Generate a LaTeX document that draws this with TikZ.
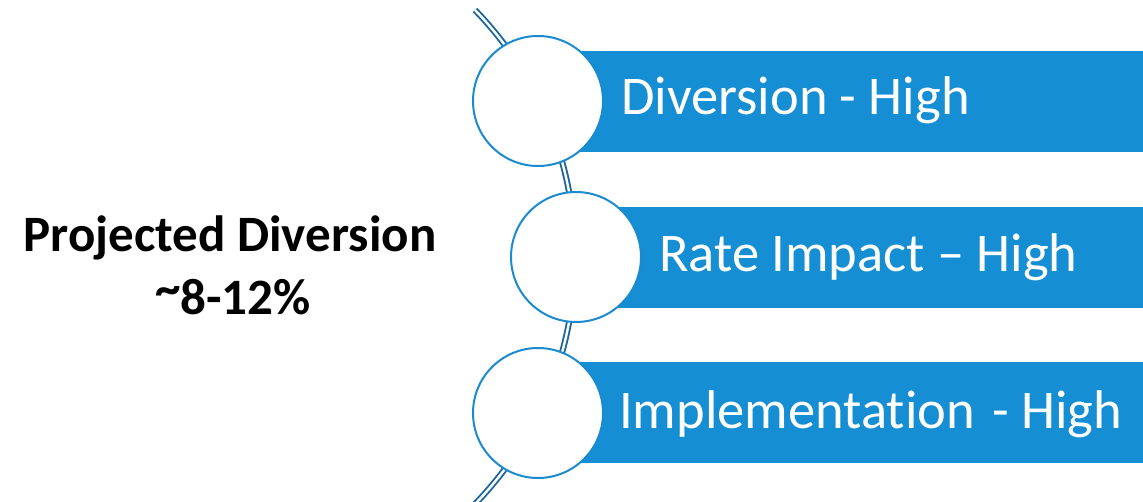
\documentclass[tikz,border=0pt]{standalone}
\usepackage{fontspec}
\setmainfont{Carlito}[Ligatures=NoCommon]
\definecolor{barblue}{HTML}{158ED4}
\definecolor{ringblue}{HTML}{1A8BD0}
\definecolor{spineblue}{HTML}{1D66A0}
\begin{document}
\begin{tikzpicture}[x=1pt,y=1pt,
  bar/.style={fill=barblue, draw=none},
  ring/.style={circle, draw=ringblue, line width=2pt, fill=white, minimum size=130pt, inner sep=0pt},
  spine/.style={draw=spineblue, line width=1.9pt, double=white, double distance=2.4pt},
  itemtext/.style={anchor=base west, text=white, inner sep=0pt, font=\fontsize{54.5}{60}\selectfont},
  headtext/.style={anchor=base, text=black, inner sep=0pt, font=\fontsize{51}{58}\selectfont\bfseries}]
\useasboundingbox (0,0) rectangle (1143,501);

% curved spine behind the circles
\coordinate (spinetop) at (475,491);
\draw[spine] (spinetop) arc[start angle=44.1, end angle=-44.4, radius=355pt] coordinate (spinebot);

% bars
\fill[bar] (538,349) rectangle (1143,450);
\fill[bar] (576,193) rectangle (1143,294);
\fill[bar] (538,38) rectangle (1143,139);

% circles
\node[ring] (c1) at (538,400) {};
\node[ring] (c2) at (576,244) {};
\node[ring] (c3) at (538,88) {};

% bar labels
\node[itemtext] (t1) at (621,386) {Diversion - High};
\node[itemtext] (t2) at (659,229) {Rate Impact – High};
\node[itemtext] (t3) at (619,73) {Implementation\hspace{0.32em}- High};

% heading on the left
\node[headtext] (h1) at (230,249) {Projected Diversion};
\node[headtext] (h2) at (233,186) {\raisebox{9pt}{\char"007E}8-12\%};
\end{tikzpicture}
\end{document}
